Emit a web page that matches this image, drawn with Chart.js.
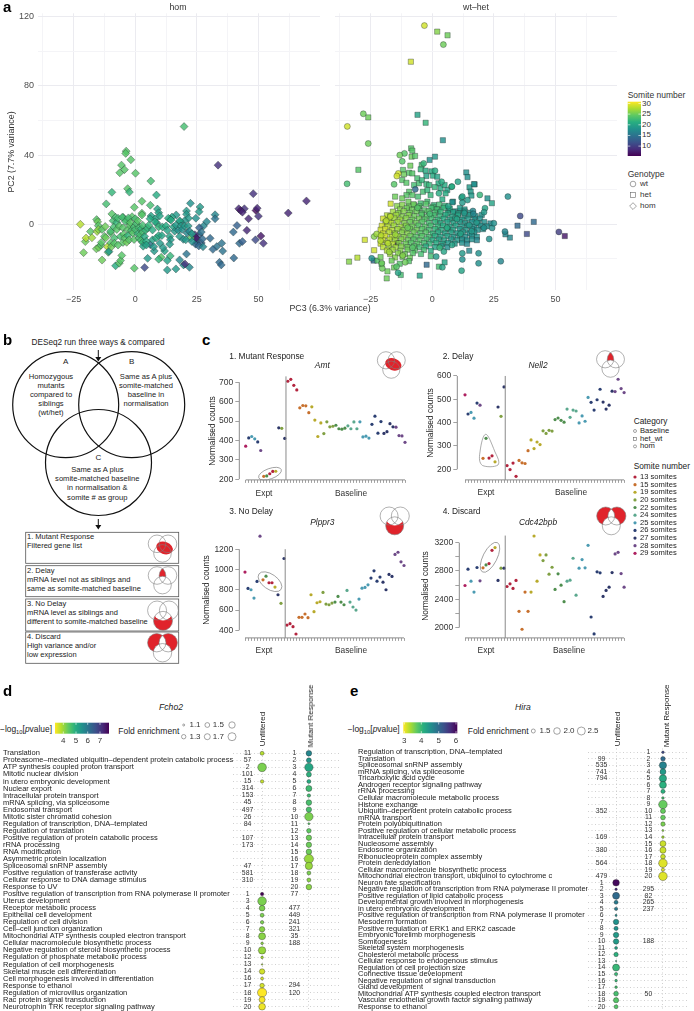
<!DOCTYPE html>
<html>
<head>
<meta charset="utf-8">
<title>Figure</title>
<script src="https://cdn.jsdelivr.net/npm/chart.js@4"></script>
<style>
html,body{margin:0;padding:0;background:#fff;overflow:hidden;}
#page{position:relative;width:694px;height:1011px;overflow:hidden;font-family:"Liberation Sans",Arial,sans-serif;color:#222;}
#page canvas{position:absolute;}
#page .t{position:absolute;white-space:nowrap;line-height:1;}
#page sub{font-size:70%;line-height:0;}
#overlay{position:absolute;left:0;top:0;z-index:5;pointer-events:none;}
</style>
</head>
<body>
<div id="page"></div>
<script>
// ---- panel a: PC3, PC2, somite number ----
var homPoints = [
[19.8,56.5,23],[-3.7,42.3,24],[-3.9,41,24],[-1.8,37.3,24],[-5.6,34.2,24],[-4.4,31.6,24],[-6.3,29.8,24],[0.1,29.5,24],[6.3,25,23],[-3.1,20.6,24],[-2.4,18.6,22],[-9.5,18.5,22],[8.6,16.9,21],[2.7,13.3,24],[-11.8,11.8,23],[6.1,11,23],[22.4,12.1,18],[26.3,10,19],[25.9,7.3,19],[20.8,7.7,19],[20.8,5.8,19],[9,8.8,20],[9.5,6.7,20],[-0.4,9.8,24],[2.7,6.4,24],[2.7,5.4,24],[32.4,5.5,17],[32.4,3.2,15],[16.6,5.4,19],[14.9,4.2,20],[14.2,2.9,20],[13.4,3.5,21],[6.4,4.8,20],[9.9,4.8,20],[8.1,3.2,20],[8.8,0.6,20],[-1.3,4.4,24],[-4.9,4,23],[-3.3,2.1,24],[24.6,3.5,18],[29,1.5,17],[27.7,-1,17],[21.6,3.5,19],[20,2,19],[18.2,1.5,19],
[33.6,34.2,9],[47.9,17.7,9],[69.5,13.5,8],[62.1,6.5,8],[42,9,8],[44.3,9,9],[42.8,8,7],[43.5,7,8],[49,8,6],[49.5,9.3,8],[46,3.2,8],[50,4.7,9],[45.3,-3.5,8],[41.3,-0.7,13],[39.8,-4.5,14],[51,-6.8,7],[48.8,-9,11],[52,-11,9],[42.3,-11,14],[43.5,-10,13],[40,-19.5,14],
[30.4,-8.1,14],[35.1,-11,15],[33.1,-12.9,15],[31.5,-14.5,14],[35.5,-15.5,15],[34.2,-22,14],[34.9,-23.5,14],[26,-2,13],[26,-6,13],[26.8,-4.5,15],[25,-8.5,13],[25,-10.5,13],[24.5,-11.5,14],[26.8,-10.8,13],[25.8,-12.5,14],[24.2,-6,9],[24.7,-8,7],[27.3,-8.5,14],[27.5,-13,17],[22.5,-8,24],[20.8,-17.2,15],[22,-24.9,17],[19.6,-23.5,18],[18,-20.6,17],[20.2,-23,9],[16.5,-25.8,19],[13,-26.4,19],[14.2,-18.3,22],[13,-21,20],[10.5,-19.1,24],[9.5,-20.2,22],[11.9,-15.4,20],[5,-19.7,19],[3.8,-25,11],[-0.4,-25.4,24],[7.7,-15.4,19],[6.1,-11.8,15],
[-22.3,0,28],[-21,-16.4,25],[-20.3,-10,25],[-20,-8,28],[-18.2,-4.2,24],[-17.6,-7.8,27],[-15.7,2.7,24],[-15.3,1.4,25],[-15,-0.8,24],[-15.5,-4.2,27],[-15,-3,26],[-15.8,-14.2,25],[-14.8,-13.4,25],[-14,-12,24],[-13.8,-10.5,24],[-13.5,-3,24],[-13.5,-20.7,25],[-12.5,-7,24],[-12.2,-1.3,25],[-12,-7.8,25],[-11.3,-13,28],[-11,-16.2,24],[-10.7,-15.7,19],[-10,-10.8,24],[-10,-5,24],[-10,-4,23],[-9.7,-13,25],[-9.5,6,24],[-9,2,23],[-8.7,-1.5,23],[-8.5,-8,23],[-8.5,-11,24],[-8,4,23],[-8,-24,21],[-7.5,1,22],[-7.5,-3,24],[-7,3.5,23],[-7,-12,24],[-6.5,-22.5,24],[-6,-21,24],[-5.5,-18,24],[-6.5,-1,24],[-6,-7,23],[-5.3,4,23],[-5,-2,24],[-5,-10.5,24],[-4.7,-5.7,24],[-4.3,-8,24],[-4,1.7,23],[-3.5,-10.4,25],[-3,-3,24],[-3,-6.5,22],[-2.8,3.7,23],[-2.5,-9,24],[-2.2,-0.7,24],[-2,1,24],[-1.5,-3.5,23],[-1,-5,24],[-0.5,-1.5,23],[-0.5,-8.8,24],[0,-3,23],[0,3.2,23],[0.5,0.5,23],[1,2,24],[1,-5.5,22],[1.5,-2,23],[1.5,-8,23],[2,-6,23],[2.3,-9.3,23],[2.5,-2.5,22],[3,-0.5,23],[3,-4.5,23],[3,-10.5,22],[3.2,-12.7,20],[3.8,-7,21],[4.2,-3.5,22],[4.5,-9.8,21],[4.5,-12,20],[5,-2.2,22],[5.5,-0.5,22],[6,3.2,21],[7,-3.3,21],[7,-9,20],[7.5,-13,19],[8,1.5,21],[8.5,-8,21],[9.5,-6.5,21],[9.5,-1.5,22],[10,-11,19],[10.8,-6.5,20],[11,-1.5,21],[11.3,-13.5,19],[12.5,-1,21],[13,-3.5,20],[14,-7,20],[14.3,-9,19],[14.5,2.5,21],[14,-11.5,19],[15.5,-1.5,20],[16,-4,19],[16.5,-0.5,19],[17.5,-3.5,18],[18,2,20],[18,-7,19],[18.5,-1,19],[19,-3,18],[20,-1,19],[19.5,-8.7,18],[20.5,-9,19],[21,-5,17],[21.5,-1,19],[22,-4,17],[23,-5.5,19],[23,-10,18]
];
var wtPoints = [
[-3.2,114.9,29],[4.5,103.9,25],[-28,63.9,25],[-34.5,56.6,29],[-26,46.7,25],[-34.6,23.4,23],[-11.3,41,24],[-13.2,40,25],[-3.5,35.2,22],[-12.2,36.4,24],[1.1,31,21],[-13.8,29.4,29],[-14.4,27.9,29],[3.8,24.6,21],[-15.5,23.1,24],[-6.9,20.2,14],[7.8,21.7,21],[10.4,24.6,20],[2.7,17.9,21],[11.9,15.4,20],[14.3,14,19],[12.2,12.5,19],[16.5,7.7,17],[30.7,16,18],[19.3,17,22],[12.2,16,20],[8,21.8,21],[21.4,9.3,20],[21,7,19],[16.7,6,17],[35.7,4.8,11],[51.4,-4.4,10],[29.5,-4.2,17],[24.3,-2.1,18],[25,0.6,18],[23.1,-8.5,18],[27.8,-21.4,17],[18.8,-22.6,18],[18.8,-16.8,18],[12.2,-20.3,18],[12.2,-16.8,19],[1.6,-18.7,19],[4.7,-15.8,20],[4.1,-24.9,20],[11.9,-26.8,20],[-13.9,-28,20],[-24.6,-19.7,18],[-23.6,-7.1,26],[-22.6,-5.6,27],[-20.8,-6.5,28],[-20.3,-25.5,25],[-20.5,-22.5,25],[-14.5,-24.5,24],[-11,-22,25],[-18.7,2,28],[-17,4.5,28],[-21,-9.5,28],[-17.5,-16,27],[-12,-18,26],[-8,-13.5,24],[3,-13.5,22],[8,-12,20],[11.5,-5.5,20],[15,-0.5,19],[18,1,19],[10,3,20],[13,6.5,19],[6,-2,21],[-1,6,23],[-6,9.5,24],[-10,-2,25],[-15,-6,27],[-18,-11,28],[16,-4,19],[21,-2,18],[6.5,10.5,20]
];
var hetPoints = [
[2,111.4,26],[6.2,109.3,25],[-8.7,94,29],[-26,61.8,25],[-6,63.3,20],[-2.7,58.7,22],[4.3,48.6,18],[-30,31.5,24],
[-8.6,43.9,24],[-8.1,42.6,24],[-8.4,39.1,25],[-7,39.5,24],[1.1,39.1,19],[-1.1,37.2,18],[-4.3,34.3,23],[-8.9,33.9,25],[-11.9,31.4,24],[-11.5,28.9,25],[-9.4,29.8,24],[-8.1,29.4,24],[-4.7,31.8,22],[-2.7,31,21],[-2.4,27.9,20],[-0.3,30.6,21],[0.3,28.1,21],[2,27.5,20],[2.5,23.7,21],[-12.2,25.6,24],[-10.5,24,24],[-6.1,26.6,23],[-7.4,22.7,23],[-5.4,23.7,23],[-4.2,25.5,22],[-2.4,23.3,22],[-1.3,22.7,22],[-9.4,18.8,24],[-10.5,16.9,24],[-8.1,16.9,24],[-5.8,16,23],[-3.8,18.8,23],[-2,19.8,22],[-0.7,16.9,22],[1,21.5,22],[3.4,20.8,21],[5,22.7,21],[6.1,19.8,20],[13.8,30,18],[14.3,27.3,18],[17.2,23.1,18],[15.1,21.4,19],[15.6,18.9,19],[8.4,13.1,18],[4.1,14.4,21],[5.4,17.9,21],[-15.1,16,25],[-16.9,11.9,29],[-12.2,15,25],[-9.7,13.1,25],[-7.4,11.1,24],[-4.7,12.1,23],[-2,13.1,23],[0.7,11.1,22],[2.4,8.3,22],[6.8,8.3,18],[9.2,7.5,18],[11.5,7.9,19],[22.4,15,18],[24.2,12.2,20],[16.9,23.2,18],[15.9,16.6,19],[8.1,12.7,18],
[-33.8,-21.6,26],[-30.4,-19.3,28],[-27.4,-9,29],[-23.6,-15,29],[-23.8,-21,14],[-22.3,-21,24],[-20.6,-23,24],[-18.2,-27.2,25],[-18.5,-31.3,25],[-12.8,-29.3,23],[-5.1,-29.7,20],[-2.3,-23.4,14],[2.7,-24.5,23],[5,-22,20],[15,-15.3,17],[31.5,-7.7,17],[29.7,-5.8,17],[34.6,-0.8,14],[38.4,-5.6,11],[41.2,1.4,14],[53.8,-6.8,7],[-14.2,-10.6,6],
[-14.3,10.6,26],[-12.2,11.3,26],[-9.5,10.2,25],[-7.6,11.6,25],[-5.2,10.4,24],[-2.6,11.8,24],[0.2,10.1,23],[2.8,11.4,23],[5.1,10.7,22],
[-13.1,8.6,26],[-10.4,9.3,25],[-8.2,8.4,25],[-5.5,9.2,24],[-3.1,8.1,24],[-0.4,9.4,23],[1.9,8.7,23],[4.6,9.5,22],[7.1,9.1,21],[11.2,9.4,19],[13.1,8.6,19],
[-16,7.3,27],[-13.8,6.5,26],[-11.6,7.6,26],[-9.1,6.6,25],[-6.4,7.4,25],[-4.2,6.3,24],[-1.5,7.5,24],[1.1,6.7,23],[3.4,7.2,22],[6.2,6.4,21],[8.5,7,20],[10.6,6.2,20],[13.2,7.4,19],[15.5,6.7,19],
[-18.4,5.2,28],[-17.1,4.6,28],[-14.6,5.4,27],[-12.1,4.5,26],[-9.6,5.3,26],[-7.2,4.7,25],[-4.4,5.5,24],[-2.1,4.4,24],[0.6,5.2,23],[3.1,4.6,22],[5.4,5.5,21],[8.1,4.4,20],[10.4,5.1,20],[13,4.5,19],[15.2,5.3,19],[17.6,4.7,18],[20.1,5.4,18],
[-20,3.3,29],[-17.5,2.6,28],[-15.4,3.4,27],[-13.1,2.7,27],[-10.6,3.5,26],[-8.1,2.6,25],[-5.4,3.3,25],[-3.1,2.8,24],[-0.4,3.5,23],[2.1,2.6,22],[4.6,3.2,21],[7.1,2.7,20],[9.4,3.4,20],[12.1,2.6,19],[14.6,3.2,19],[17.1,2.8,18],[19.4,3.3,18],
[-19,1.2,28],[-16.6,0.7,28],[-14.1,1.4,27],[-11.4,0.6,26],[-9.1,1.3,25],[-6.6,0.8,25],[-4.1,1.5,24],[-1.4,0.7,23],[1.1,1.2,22],[3.4,0.6,21],[6.1,1.4,20],[8.6,0.8,20],[11.1,1.3,19],[13.4,0.6,19],[16.1,1.2,18],[18.6,0.7,18],[21.1,1.3,18],[23.6,0.5,17],
[-20.5,-0.8,29],[-18.1,-1.3,28],[-15.6,-0.7,27],[-13,-1.4,27],[-10.6,-0.8,26],[-8.1,-1.3,25],[-5.6,-0.7,24],[-3.1,-1.4,24],[-0.6,-0.8,23],[2.1,-1.3,22],[4.4,-0.7,21],[7.1,-1.4,20],[9.6,-0.8,20],[12.1,-1.3,19],[14.4,-0.7,19],[17.1,-1.4,18],[19.6,-0.8,18],[22.1,-1.2,18],
[-21,-3.2,29],[-19.1,-2.7,29],[-16.4,-3.4,28],[-14.1,-2.8,27],[-11.6,-3.3,26],[-9.1,-2.6,25],[-6.4,-3.2,25],[-4.1,-2.7,24],[-1.4,-3.3,23],[1.1,-2.8,22],[3.6,-3.4,21],[6.1,-2.7,20],[8.4,-3.2,20],[11.1,-2.8,19],[13.6,-3.3,19],[16.1,-2.7,18],[18.4,-3.2,18],[20.6,-2.8,18],
[-20,-5.3,29],[-17.6,-4.7,28],[-15.1,-5.2,27],[-12.4,-4.8,26],[-10.1,-5.4,26],[-7.6,-4.7,25],[-4.9,-5.2,24],[-2.6,-4.8,24],[0.1,-5.4,22],[2.4,-4.7,21],[5.1,-5.3,20],[7.6,-4.8,20],[10.1,-5.2,19],[12.4,-4.7,19],[15.1,-5.3,18],[17.1,-4.8,18],
[-21,-7.2,29],[-19.1,-6.7,29],[-16.4,-7.3,28],[-14.1,-6.8,27],[-11.6,-7.4,26],[-8.9,-6.7,25],[-6.6,-7.2,24],[-4.1,-6.8,24],[-1.4,-7.3,23],[1.1,-6.7,21],[3.4,-7.2,20],[6.1,-6.8,20],[8.6,-7.3,19],[11.1,-6.7,19],[13.4,-7.2,18],[16.1,-6.8,18],[18.1,-7.2,18],
[-20,-9.2,29],[-17.4,-8.8,28],[-15.1,-9.3,27],[-12.6,-8.7,26],[-9.9,-9.2,25],[-7.6,-8.8,24],[-5.1,-9.3,24],[-2.4,-8.7,23],[0.1,-9.2,21],[2.6,-8.8,20],[4.9,-9.3,20],[7.6,-8.7,19],[10.1,-9.2,19],[12.1,-8.8,18],[14.1,-9.3,18],[16.1,-8.7,18],[18.1,-9.2,17],
[-21,-11.2,29],[-18.4,-10.7,28],[-16.1,-11.3,28],[-13.6,-10.9,26],[-10.9,-11.2,25],[-8.6,-10.7,24],[-6.1,-11.3,24],[-3.4,-10.8,23],[-1.1,-11.2,22],[1.6,-10.7,21],[4.1,-11.3,20],[6.4,-10.8,19],[9.1,-11.2,19],[12.1,-10.7,18],[14.1,-11.3,17],
[-20,-13.2,28],[-17.6,-12.7,27],[-14.9,-13.3,27],[-12.6,-12.8,26],[-10.1,-13.2,25],[-7.4,-12.7,24],[-5.1,-13.3,23],[-2.6,-12.8,21],[1.1,-13.2,20],[3.6,-12.7,19],[6.1,-13.3,18],
[-18.4,-15.2,28],[-16.1,-14.8,27],[-12.9,-15.3,26],[-10.1,-14.7,25],[-7.1,-15.2,24],[-3.4,-14.8,23],[-0.6,-15.2,21],
[-17.1,-17.2,27],[-13.9,-16.8,26],[-11.1,-17.3,25],[-7.9,-16.7,24],[-4.6,-17.2,23],[-0.6,-18.5,23],
[-15.1,-19.2,26],[-12.1,-18.8,25],[-9.1,-19.4,25],[-13.2,-22.8,24],[-9.5,-21.3,24],[-15.5,-25,25],[-16.5,-21,25],[-21,-19,25]
];
var aXTicks = [-37.5,-25,-12.5,0,12.5,25,37.5,50,62.5];
var aYTicks = [-20,0,20,40,60,80,100,120];

// ---- panel c: normalised counts, sample index order ----
var sampleSomites = [29,26,25,25,26,28,15,22,13,13,19,27,20,27,13,13,13,13,15,15,15,15,19,19,19,19,20,20,20,20,22,22,22,22,24,24,24,24,25,25,25,25,26,26,26,26,27,27,27,27,28,28,28,28];
var amtCounts = [370,413,420,408,392,348,215,217,228,240,241,465,462,410,705,715,684,660,568,580,578,543,573,505,420,490,435,496,470,473,478,460,458,463,475,460,495,460,496,418,422,412,483,525,437,497,436,445,486,470,468,425,423,390];
var nell2Counts = [519,437,444,419,484,475,247,333,248,258,232,467,427,553,216,199,227,170,238,228,225,280,326,289,317,306,365,354,367,364,413,420,410,402,458,423,454,450,399,429,406,508,487,454,498,543,488,458,475,535,533,586,546,529];
var plppr3Counts = [974,813,800,718,882,1328,898,934,869,869,826,751,666,1108,452,466,436,364,528,528,561,525,751,584,672,682,774,659,652,669,679,734,679,652,793,679,630,600,708,816,823,849,915,987,885,925,875,800,951,931,1148,1170,1075,1039];
var cdc42bpbCounts = [2595,2825,2656,2502,2849,2661,2844,2886,2905,3092,3130,2666,2839,2839,2581,2619,2553,2666,2230,1977,2502,2230,2502,3294,2656,3027,2947,3027,2755,2853,2539,2760,2600,2366,2656,2670,2980,2459,2839,2961,2844,3163,2150,1911,2788,2774,2441,2525,2572,2778,3041,3064,2764,2572];
var somiteLabels = [13,15,19,20,22,24,25,26,27,28,29];
var somiteColors = {13:'#b3243e',15:'#c7702d',19:'#b8aa2c',20:'#80a043',22:'#4f8e4e',24:'#5ba88e',25:'#4b9bb2',26:'#2b3f72',27:'#2e3768',28:'#6e4a88',29:'#ae2060'};

// ---- panel d: Fcho2 ----
var dRows = ['Translation','Proteasome\u2013mediated ubiquitin\u2013dependent protein catabolic process','ATP synthesis coupled proton transport','Mitotic nuclear division','in utero embryonic development','Nuclear export','Intracellular protein transport','mRNA splicing, via spliceosome','Endosomal transport','Mitotic sister chromatid cohesion','Regulation of transcription, DNA\u2013templated','Regulation of translation','Positive regulation of protein catabolic process','rRNA processing','RNA modification','Asymmetric protein localization','Spliceosomal snRNP assembly','Positive regulation of transferase activity','Cellular response to DNA damage stimulus','Response to UV','Positive regulation of transcription from RNA polymerase II promoter','Uterus development','Receptor metabolic process','Epithelial cell development','Regulation of cell division','Cell\u2013cell junction organization','Mitochondrial ATP synthesis coupled electron transport','Cellular macromolecule biosynthetic process','Negative regulation of steroid biosynthetic process','Regulation of phosphate metabolic process','Regulation of cell morphogenesis','Skeletal muscle cell differentiation','Cell morphogenesis involved in differentiation','Response to ethanol','Regulation of microvillus organization','Rac protein signal transduction','Neurotrophin TRK receptor signaling pathway'];
var dUnfRank = [11,57,2,101,15,314,153,45,497,26,84,null,107,173,null,null,47,581,310,null,1,3,4,5,6,7,8,9,10,12,13,14,16,17,18,19,20];
var dMutRank = [1,2,3,4,5,6,7,8,9,10,11,12,13,14,15,16,17,18,19,20,77,null,477,449,241,321,35,188,null,null,null,null,null,294,120,null,null];
var dUnfFold = [1.25,null,1.7,null,1.2,null,null,null,null,null,null,null,null,null,null,null,null,null,null,null,1.2,1.7,1.41,1.25,1.2,1.39,1.54,1.12,1.58,1.12,1.02,1.39,1.16,1.31,1.75,1.45,1.52];
var dUnfLogP = [3.8,null,4.2,null,3.7,null,null,null,null,null,null,null,null,null,null,null,null,null,null,null,7.7,4.2,4.2,4.2,4.2,4.1,4.1,4.1,4,3.9,3.9,3.6,3.6,3.6,3.3,3.35,3.4];
var dMutFold = [1.41,1.35,1.68,1.35,1.25,1.45,1.2,1.41,1.39,1.68,1.06,1.31,1.39,1.39,1.41,1.75,1.58,1.25,1.25,1.41];
var dMutLogP = [5.7,5.4,5.1,4.9,5,4.7,4.7,4.6,4.6,4.2,4.5,4.4,4.3,4.3,4.3,4,4,4.2,4.1,4.1];

// ---- panel e: Hira ----
var eRows = ['Regulation of transcription, DNA\u2013templated','Translation','Spliceosomal snRNP assembly','mRNA splicing, via spliceosome','Tricarboxylic acid cycle','Androgen receptor signaling pathway','rRNA processing','Cellular macromolecule metabolic process','Histone exchange','Ubiquitin\u2013dependent protein catabolic process','mRNA transport','Protein polyubiquitination','Positive regulation of cellular metabolic process','Intracellular protein transport','Nucleosome assembly','Endosome organization','Ribonucleoprotein complex assembly','Protein deneddylation','Cellular macromolecule biosynthetic process','Mitochondrial electron transport, ubiquinol to cytochrome c','Neuron fate specification','Negative regulation of transcription from RNA polymerase II promoter','Positive regulation of lipid catabolic process','Developmental growth involved in morphogenesis','in utero embryonic development','Positive regulation of transcription from RNA polymerase II promoter','Mesoderm formation','Positive regulation of ERK1 and ERK2 cascade','Embryonic forelimb morphogenesis','Somitogenesis','Skeletal system morphogenesis','Cholesterol metabolic process','Cellular response to endogenous stimulus','Regulation of cell projection size','Connective tissue development','Negative regulation of signal transduction','Gland development','Mitochondrial ATP synthesis coupled electron transport','Vascular endothelial growth factor signaling pathway','Response to ethanol'];
var eUnfRank = [null,99,535,741,794,null,null,null,null,352,null,null,null,169,null,380,null,564,null,479,1,2,3,4,5,6,7,8,9,10,11,12,13,14,15,16,17,18,19,20];
var eMutRank = [1,2,3,4,5,6,7,8,9,10,11,12,13,14,15,16,17,18,19,20,null,295,82,265,237,null,null,null,null,188,null,null,null,null,null,null,null,50,null,null];
var eUnfFold = [null,null,null,null,null,null,null,null,null,null,null,null,null,null,null,null,null,null,null,null,2,1.05,2.09,1.41,1.27,1,1.73,1.45,1.73,1.73,1.18,1.5,0.82,2.09,1.27,1.09,1.09,1.59,1.68,1.41];
var eUnfLogP = [null,null,null,null,null,null,null,null,null,null,null,null,null,null,null,null,null,null,null,null,6,5.7,5,4.8,4.8,4.6,4.5,4.5,4.4,4.4,4.3,4.1,4.1,4,4,4,3.9,3.9,3.8,3.8];
var eMutFold = [1.09,1.55,2.14,1.86,2.14,2.09,1.45,1.09,2.45,1.64,1.59,1.5,0.95,1.09,1.86,1.91,1.59,2.45,1.23,2.45];
var eMutLogP = [5.4,5,4.7,4.4,4.2,4.1,4.1,3.9,3.7,3.7,3.7,3.6,3.5,3.4,3.2,3.2,3.2,3.1,3.1,3.1];

// ---- helpers ----
var page = document.getElementById('page');
var FONT = '"Liberation Sans", Arial, sans-serif';
var viridis = ['#440154','#472d7b','#3b528b','#2c728e','#21918c','#28ae80','#5ec962','#addc30','#fde725'];

function mixViridis(t, alpha) { // t 0 = purple, 1 = yellow
	t = Math.max(0, Math.min(1, t)) * (viridis.length - 1);
	var i = Math.min(Math.floor(t), viridis.length - 2), f = t - i;
	var a = parseInt(viridis[i].slice(1), 16), b = parseInt(viridis[i + 1].slice(1), 16);
	var ch = function (sh) { return Math.round(((a >> sh) & 255) * (1 - f) + ((b >> sh) & 255) * f); };
	return 'rgba(' + ch(16) + ',' + ch(8) + ',' + ch(0) + ',' + (alpha === undefined ? 1 : alpha) + ')';
}
function somiteColor(s) { return mixViridis((s - 5.4) / 25.4, 0.82); }

function text(str, x, y, size, opts) {
	opts = opts || {};
	var d = document.createElement('div');
	d.className = 't';
	d.innerHTML = str;
	d.style.left = x + 'px';
	d.style.top = y + 'px';
	d.style.fontSize = size + 'px';
	if (opts.color) d.style.color = opts.color;
	if (opts.weight) d.style.fontWeight = opts.weight;
	if (opts.italic) d.style.fontStyle = 'italic';
	var tx = opts.align === 'center' ? '-50%' : (opts.align === 'right' ? '-100%' : '0');
	d.style.transform = 'translate(' + tx + ',-50%)';
	if (opts.rotate) { d.style.transform = 'translate(-50%,-50%) rotate(' + opts.rotate + 'deg)'; }
	page.appendChild(d);
}

// canvas rect in page px, plot = chart area in page px
function addChart(rect, plot, cfg) {
	var c = document.createElement('canvas');
	c.width = rect.w; c.height = rect.h;
	c.style.left = rect.x + 'px'; c.style.top = rect.y + 'px';
	c.style.width = rect.w + 'px'; c.style.height = rect.h + 'px';
	page.appendChild(c);
	cfg.options = cfg.options || {};
	cfg.options.responsive = false;
	cfg.options.animation = false;
	cfg.options.devicePixelRatio = 1;
	cfg.options.layout = {padding: {left: 0, top: plot.t - rect.y, right: rect.x + rect.w - plot.r, bottom: 0}};
	cfg.options.plugins = {legend: {display: false}, tooltip: {enabled: false}, title: {display: false}};
	cfg.options.scales.x.afterFit = function (s) { s.height = rect.y + rect.h - plot.b; };
	cfg.options.scales.y.afterFit = function (s) { s.width = plot.l - rect.x; };
	return new Chart(c.getContext('2d'), cfg);
}

function setTicks(values) {
	return function (s) { s.ticks = values.map(function (v) { return {value: v}; }); };
}

// ---- panel a ----
function pcaDataset(points, style, radius) {
	return {
		data: points.map(function (p) { return {x: p[0], y: p[1]}; }),
		pointStyle: style,
		pointRadius: radius,
		pointBackgroundColor: points.map(function (p) { return somiteColor(p[2]); }),
		pointBorderColor: 'rgba(30,40,40,0.7)',
		pointBorderWidth: 0.5,
		clip: false
	};
}
function pcaChart(rect, plot, datasets, showY) {
	addChart(rect, plot, {
		type: 'scatter',
		data: {datasets: datasets},
		options: {
			scales: {
				x: {
					min: -39.5, max: 75,
					afterBuildTicks: setTicks(aXTicks),
					border: {display: false},
					grid: {drawTicks: false, lineWidth: 1, color: function (c) { return c.tick && c.tick.value % 25 === 0 ? '#ebebf0' : '#f4f4f7'; }},
					ticks: {autoSkip: false, maxRotation: 0, padding: 4, color: '#4d4d4d', font: {size: 9, family: FONT},
						callback: function (v) { return v % 25 === 0 ? String(v).replace('-', '\u2212') : ''; }}
				},
				y: {
					min: -38, max: 122,
					afterBuildTicks: setTicks(aYTicks),
					border: {display: false},
					grid: {drawTicks: false, lineWidth: 1, color: function (c) { return c.tick && c.tick.value % 40 === 0 ? '#ebebf0' : '#f4f4f7'; }},
					ticks: {display: showY, autoSkip: false, padding: 4, color: '#4d4d4d', font: {size: 9, family: FONT},
						callback: function (v) { return v % 40 === 0 ? String(v) : ''; }}
				}
			}
		}
	});
}
pcaChart({x: 0, y: 0, w: 330, h: 310}, {l: 38, t: 13.3, r: 320, b: 290}, [pcaDataset(homPoints, 'rectRot', 4)], true);
pcaChart({x: 330, y: 0, w: 295, h: 310}, {l: 335, t: 13.3, r: 617, b: 290},
	[pcaDataset(wtPoints, 'circle', 3), pcaDataset(hetPoints, 'rect', 3.7)], false);

// ---- panel c ----
function rStyleAxes(sepTop) {
	return {
		id: 'rStyleAxes',
		afterDatasetsDraw: function (chart) {
			var xs = chart.scales.x, ys = chart.scales.y, ctx = chart.ctx;
			var xt = xs.ticks, yt = ys.ticks;
			ctx.save();
			ctx.lineWidth = 1;
			ctx.strokeStyle = '#8a8a8a';
			ctx.beginPath();
			ctx.moveTo(xs.getPixelForValue(xt[0].value), chart.chartArea.bottom);
			ctx.lineTo(xs.getPixelForValue(xt[xt.length - 1].value), chart.chartArea.bottom);
			ctx.moveTo(chart.chartArea.left, ys.getPixelForValue(yt[0].value));
			ctx.lineTo(chart.chartArea.left, ys.getPixelForValue(yt[yt.length - 1].value));
			ctx.moveTo(xs.getPixelForValue(13.4), chart.chartArea.bottom);
			ctx.lineTo(xs.getPixelForValue(13.4), ys.getPixelForValue(sepTop));
			ctx.stroke();
			ctx.restore();
		}
	};
}
var sampleIdx = sampleSomites.map(function (s, i) { return i; });
function countsChart(rect, plot, counts, xr, yr, yTicks, sepTop, labelled) {
	addChart(rect, plot, {
		type: 'scatter',
		data: {datasets: [{
			data: counts.map(function (v, i) { return {x: i, y: v}; }),
			pointRadius: 1.6,
			pointBorderWidth: 0,
			pointBackgroundColor: sampleSomites.map(function (s) { return somiteColors[s]; }),
			clip: false
		}]},
		options: {
			scales: {
				x: {
					min: xr[0], max: xr[1],
					afterBuildTicks: setTicks(sampleIdx),
					border: {display: false},
					grid: {drawOnChartArea: false, drawTicks: true, tickLength: 3, color: '#8a8a8a', lineWidth: 0.8},
					ticks: {display: false, autoSkip: false}
				},
				y: {
					min: yr[0], max: yr[1],
					afterBuildTicks: setTicks(yTicks),
					border: {display: false},
					grid: {drawOnChartArea: false, drawTicks: true, tickLength: 4, color: '#8a8a8a', lineWidth: 0.8},
					ticks: {autoSkip: false, padding: 2, color: '#333', font: {size: 8.5, family: FONT},
						callback: function (v) { return labelled.indexOf(v) >= 0 ? String(v) : ''; }}
				}
			}
		},
		plugins: [rStyleAxes(sepTop)]
	});
}
var amtTicks = [200,300,400,500,600,700], nell2Ticks = [200,300,400,500,600], plppr3Ticks = [400,600,800,1000,1200];
var cdcTicks = [2000,2200,2400,2600,2800,3000,3200], cdcLabels = [2000,2400,2800,3200];
countsChart({x: 214, y: 345, w: 200, h: 142}, {l: 239.3, t: 372, r: 410, b: 481}, amtCounts, [-2.13, 54.66], [196.4, 752.6], amtTicks, 730, amtTicks);
countsChart({x: 432, y: 345, w: 200, h: 142}, {l: 457.3, t: 372, r: 628, b: 481}, nell2Counts, [-2.57, 54.3], [154.7, 617], nell2Ticks, 600, nell2Ticks);
countsChart({x: 214, y: 500, w: 200, h: 145}, {l: 239.3, t: 528, r: 410, b: 638.3}, plppr3Counts, [-1.9, 55], [325.3, 1409], plppr3Ticks, 1200, plppr3Ticks);
countsChart({x: 432, y: 500, w: 200, h: 145}, {l: 459.3, t: 528, r: 628, b: 638.3}, cdc42bpbCounts, [-1.9, 54.3], [1855, 3407], cdcTicks, 3300, cdcLabels);

// ---- panels d, e ----
function rankLabels(unf, mut, offset) {
	return {
		id: 'rankLabels',
		afterDatasetsDraw: function (chart) {
			var ctx = chart.ctx, xs = chart.scales.x, ys = chart.scales.y;
			ctx.save();
			ctx.font = '6.9px ' + FONT;
			ctx.fillStyle = '#333';
			ctx.textAlign = 'center';
			ctx.textBaseline = 'middle';
			[unf, mut].forEach(function (ranks, col) {
				ranks.forEach(function (r, i) {
					if (r !== null) ctx.fillText(r, xs.getPixelForValue(col) - offset, ys.getPixelForValue(i + 1));
				});
			});
			ctx.restore();
		}
	};
}
function enrichBubbles(rows, col, folds, logps, radius, colour) {
	var out = [], fill = [];
	rows.forEach(function (r, i) {
		if (folds[i] === null || folds[i] === undefined) return;
		out.push({x: col, y: i + 1, r: radius(folds[i])});
		fill.push(colour(logps[i]));
	});
	return {data: out, backgroundColor: fill, borderColor: 'rgba(40,40,40,0.75)', borderWidth: 0.5, clip: false};
}
function enrichChart(rect, plot, rows, xr, yr, datasets, unf, mut) {
	var idx = rows.map(function (r, i) { return i + 1; });
	addChart(rect, plot, {
		type: 'bubble',
		data: {datasets: datasets},
		options: {
			scales: {
				x: {
					min: xr[0], max: xr[1],
					afterBuildTicks: setTicks([0, 1]),
					border: {display: false, dash: [1, 2.5]},
					grid: {color: '#c4c4c4', lineWidth: 0.8, drawTicks: false},
					ticks: {display: false}
				},
				y: {
					reverse: true,
					min: yr[0], max: yr[1],
					afterBuildTicks: setTicks(idx),
					border: {display: false, dash: [1, 2.5]},
					grid: {color: '#c4c4c4', lineWidth: 0.8, drawTicks: false},
					ticks: {autoSkip: false, crossAlign: 'far', padding: 0, color: '#222', font: {size: 7.5, family: FONT},
						callback: function (v) { return rows[v - 1]; }}
				}
			}
		},
		plugins: [rankLabels(unf, mut, 14.5)]
	});
}
function dRadius(f) { return 5.2 * f - 4.52; }
function dColour(p) { return mixViridis((7.7 - p) / 4.4); }
function eRadius(f) { return 2.2 * (f - 0.5); }
function eColour(p) { return mixViridis((6.08 - p) / 3.13); }

enrichChart({x: 2.7, y: 740, w: 342, h: 285}, {l: 233, t: 749, r: 343, b: 1010}, dRows, [-0.615, 1.663], [0.39, 37.47],
	[enrichBubbles(dRows, 0, dUnfFold, dUnfLogP, dRadius, dColour), enrichBubbles(dRows, 1, dMutFold, dMutLogP, dRadius, dColour)], dUnfRank, dMutRank);
enrichChart({x: 358.3, y: 740, w: 336, h: 285}, {l: 588, t: 748.5, r: 694, b: 1010}, eRows, [-0.605, 1.56], [0.42, 40.5],
	[enrichBubbles(eRows, 0, eUnfFold, eUnfLogP, eRadius, eColour), enrichBubbles(eRows, 1, eMutFold, eMutLogP, eRadius, eColour)], eUnfRank, eMutRank);

// ---- text ----
[['a', 3, 6], ['b', 3, 339], ['c', 202, 339], ['d', 3, 690], ['e', 350, 690]].forEach(function (p) {
	text(p[0], p[1], p[2], 15, {weight: 'bold', color: '#000'});
});
text('hom', 178, 7, 8.8, {align: 'center', color: '#333'});
text('wt\u2013het', 476, 7, 8.8, {align: 'center', color: '#333'});
text('PC2 (7.7% variance)', 11, 152, 8.8, {rotate: -90, color: '#333'});
text('PC3 (6.3% variance)', 330, 308, 8.8, {align: 'center', color: '#333'});
text('Somite number', 627.7, 95, 8.5, {color: '#333'});
[30, 25, 20, 15, 10].forEach(function (v, i) { text(String(v), 642, 103.5 + i * 10.65, 8, {color: '#333'}); });
text('Genotype', 627.7, 174, 8.5, {color: '#333'});
['wt', 'het', 'hom'].forEach(function (v, i) { text(v, 640, 184 + i * 11, 8, {color: '#333'}); });

// b
text('DESeq2 run three ways &amp; compared', 98, 342.5, 8.2, {align: 'center'});
text('A', 65.7, 361.7, 8, {align: 'center'});
text('B', 131.7, 361.7, 8, {align: 'center'});
text('C', 98.5, 457.7, 8, {align: 'center'});
['Homozygous', 'mutants', 'compared to', 'siblings', '(wt/het)'].forEach(function (s, i) { text(s, 51, 376.7 + i * 8.95, 7.6, {align: 'center'}); });
['Same as A plus', 'somite-matched', 'baseline in', 'normalisation'].forEach(function (s, i) { text(s, 146, 376.7 + i * 8.95, 7.6, {align: 'center'}); });
['Same as A plus', 'somite-matched baseline', 'in normalisation &amp;', 'somite # as group'].forEach(function (s, i) { text(s, 97.3, 470 + i * 9.2, 7.6, {align: 'center'}); });
[['1. Mutant Response', 537], ['Filtered gene list', 546], ['2. Delay', 571], ['mRNA level not as siblings and', 580], ['same as somite-matched baseline', 589], ['3. No Delay', 604], ['mRNA level as siblings and', 613], ['different to somite-matched baseline', 622], ['4. Discard', 637], ['High variance and/or', 646], ['low expression', 655]].forEach(function (p) {
	text(p[0], 27, p[1], 7.5);
});

// c
text('1. Mutant Response', 229.3, 356, 8.4);
text('2. Delay', 442.7, 356, 8.4);
text('3. No Delay', 229.3, 511, 8.4);
text('4. Discard', 442.7, 511, 8.4);
text('Amt', 322.3, 365.3, 8.4, {align: 'center', italic: true});
text('Nell2', 538, 365.3, 8.4, {align: 'center', italic: true});
text('Plppr3', 322.3, 521.7, 8.4, {align: 'center', italic: true});
text('Cdc42bpb', 538, 521.7, 8.4, {align: 'center', italic: true});
[[212, 431], [430, 423], [206, 590], [425, 586]].forEach(function (p) { text('Normalised counts', p[0], p[1], 8.4, {rotate: -90}); });
[[264, 492.7, 'Expt'], [351, 492.7, 'Baseline'], [486, 491.5, 'Expt'], [571, 491.5, 'Baseline'], [264, 650, 'Expt'], [351, 650, 'Baseline'], [486, 649.5, 'Expt'], [569, 649.5, 'Baseline']].forEach(function (p) {
	text(p[2], p[0], p[1], 8.4, {align: 'center', color: '#333'});
});
text('Category', 633.7, 421, 8.3);
['Baseline', 'het_wt', 'hom'].forEach(function (s, i) { text(s, 640, 431 + i * 7.7, 7.6); });
text('Somite number', 633.7, 466, 8.3);
somiteLabels.forEach(function (s, i) { text(s + ' somites', 640, 477 + i * 7.63, 7.6); });

// d, e headers
text('Fcho2', 171, 707, 8.6, {align: 'center', italic: true});
text('Hira', 523, 707, 8.6, {align: 'center', italic: true});
text('\u2212log<sub>10</sub>[<i>p</i>value]', 0, 728.5, 8.4);
text('\u2212log<sub>10</sub>[<i>p</i>value]', 347.7, 728.5, 8.4);
text('Fold enrichment', 118.3, 731, 8.5);
text('Fold enrichment', 467.7, 731, 8.5);
[[4, 63.3], [5, 76], [6, 87.7], [7, 100]].forEach(function (p) { text(String(p[0]), p[1], 740.5, 8, {align: 'center', color: '#333'}); });
[[3, 404.3], [4, 421.3], [5, 438.7], [6, 456]].forEach(function (p) { text(String(p[0]), p[1], 740.5, 8, {align: 'center', color: '#333'}); });
[['1.1', 195, 725], ['1.5', 218.3, 725], ['1.3', 195, 736.7], ['1.7', 218.3, 736.7], ['1.5', 545, 731], ['2.0', 569, 731], ['2.5', 593, 731]].forEach(function (p) {
	text(p[0], p[1], p[2], 8, {align: 'center', color: '#333'});
});
[[263, 729, 'Unfiltered'], [311, 716, 'Mutant Response'], [617.7, 729, 'Unfiltered'], [666.7, 716, 'Mutant Response']].forEach(function (p) {
	text(p[2], p[0], p[1], 8, {rotate: -90, color: '#222'});
});

// ---- svg overlay: venn diagrams, legends, outlines ----
var svgId = 0;
function vennSvg(cx, top, r, kind) {
	var id = 'v' + (svgId++), ax = cx - 0.623 * r, bx = cx + 0.623 * r, ay = top + r, cy = ay + 1.09 * r;
	var A = 'cx="' + ax + '" cy="' + ay + '" r="' + r + '"', B = 'cx="' + bx + '" cy="' + ay + '" r="' + r + '"', C = 'cx="' + cx + '" cy="' + cy + '" r="' + r + '"';
	var red = '#e0232b', defs = '', fill = '';
	defs += '<clipPath id="' + id + 'b"><circle ' + B + '/></clipPath>';
	var whiteBg = '<rect x="' + (cx - 4 * r) + '" y="' + (top - 2 * r) + '" width="' + (8 * r) + '" height="' + (8 * r) + '" fill="#fff"/>';
	var lensOut = '<circle ' + A + ' fill="#000" clip-path="url(#' + id + 'b)"/>';
	var cOut = '<circle ' + C + ' fill="#000"/>';
	var notch = '<circle cx="' + cx + '" cy="' + ay + '" r="' + (1.05 * r) + '" fill="#000"/>';
	if (kind === 1) {
		var ex = cx + 0.23 * r, ey = ay + 0.47 * r;
		fill = '<ellipse cx="' + ex + '" cy="' + ey + '" rx="' + (0.97 * r) + '" ry="' + (0.7 * r) + '" transform="rotate(20 ' + ex + ' ' + ey + ')" fill="' + red + '"/>';
	} else if (kind === 2) {
		defs += '<mask id="' + id + 'm" maskUnits="userSpaceOnUse" x="0" y="0" width="694" height="1011">' + whiteBg + cOut + '</mask>';
		fill = '<g mask="url(#' + id + 'm)"><circle ' + A + ' fill="' + red + '" clip-path="url(#' + id + 'b)"/></g>';
	} else if (kind === 3) {
		defs += '<mask id="' + id + 'm" maskUnits="userSpaceOnUse" x="0" y="0" width="694" height="1011">' + whiteBg + notch + '</mask>';
		fill = '<g mask="url(#' + id + 'm)"><circle ' + C + ' fill="' + red + '"/></g>';
	} else {
		defs += '<mask id="' + id + 'm" maskUnits="userSpaceOnUse" x="0" y="0" width="694" height="1011">' + whiteBg + cOut + lensOut + '</mask>';
		fill = '<g mask="url(#' + id + 'm)"><circle ' + A + ' fill="' + red + '"/><circle ' + B + ' fill="' + red + '"/></g>';
	}
	var line = '<g fill="none" stroke="#7d7d7d" stroke-width="0.6"><circle ' + A + '/><circle ' + B + '/><circle ' + C + '/></g>';
	return '<defs>' + defs + '</defs>' + fill + line;
}
function gradient(id, horizontal) {
	var stops = viridis.slice().reverse().map(function (c, i) {
		return '<stop offset="' + (i / (viridis.length - 1)) + '" stop-color="' + c + '"/>';
	}).join('');
	return '<defs><linearGradient id="' + id + '" x1="0" y1="0" x2="' + (horizontal ? 1 : 0) + '" y2="' + (horizontal ? 0 : 1) + '">' + stops + '</linearGradient></defs>';
}
function circ(x, y, r, extra) { return '<circle cx="' + x + '" cy="' + y + '" r="' + r + '" ' + (extra || 'fill="none" stroke="#666" stroke-width="0.6"') + '/>'; }

var s = '<svg id="overlay" width="694" height="1011" xmlns="http://www.w3.org/2000/svg">';
// a legends
s += gradient('gradA', false) + '<rect x="627.7" y="101.7" width="13.3" height="54.3" fill="url(#gradA)"/>';
[103.5, 114.1, 124.8, 135.5, 146.1].forEach(function (y) { s += '<path d="M627.7 ' + y + 'h2.6M638.4 ' + y + 'h2.6" stroke="#fff" stroke-width="0.6"/>'; });
s += circ(633, 184, 2.8);
s += '<rect x="630.5" y="192.5" width="5" height="5" fill="none" stroke="#666" stroke-width="0.6"/>';
s += '<path d="M633 202.7l3.4 3.4l-3.4 3.4l-3.4 -3.4z" fill="none" stroke="#666" stroke-width="0.6"/>';
// b venn
s += '<g fill="none" stroke="#111" stroke-width="1.2">' + circ(65.7, 404.7, 53, ' ') + circ(131.7, 404.7, 53, ' ') + circ(98.5, 462.5, 53, ' ') + '</g>';
s += '<path d="M98.3 350V358M98.3 519V526" stroke="#111" stroke-width="1"/><path d="M95.3 357h6l-3 4.5zM95.3 525h6l-3 4.5z" fill="#111"/>';
[[532.3, 31], [565.7, 31], [599, 32], [632, 31.3]].forEach(function (b) {
	s += '<rect x="25.7" y="' + b[0] + '" width="153" height="' + b[1] + '" fill="none" stroke="#555" stroke-width="0.8"/>';
});
s += vennSvg(162.5, 535, 8.8, 1) + vennSvg(162.5, 566.7, 8.8, 2) + vennSvg(163, 601, 9.5, 3) + vennSvg(162.5, 633.5, 9.2, 4);
// c venns
s += vennSvg(391.3, 351.7, 8.6, 1) + vennSvg(610.5, 350.7, 8.6, 2) + vennSvg(394.7, 507, 9, 3) + vennSvg(611.3, 507, 9, 4);
// c outlines
var outline = 'fill="none" stroke="#888" stroke-width="0.7"';
s += '<ellipse cx="270" cy="473.7" rx="12" ry="5.2" transform="rotate(-20 270 473.7)" ' + outline + '/>';
s += '<path d="M485.7 434.3C488 434 491 442 495 452C498 458 500 462 498 465C494 467.5 486 467 482.5 465.5C479 463 479 458 480 452C481 444 483 434.5 485.7 434.3Z" ' + outline + '/>';
s += '<ellipse cx="270" cy="581.7" rx="13.5" ry="7.5" transform="rotate(35 270 581.7)" ' + outline + '/>';
s += '<ellipse cx="490" cy="557.3" rx="7" ry="16.5" transform="rotate(27 490 557.3)" ' + outline + '/>';
// c legends
s += circ(635, 431, 1.5) + '<rect x="633.5" y="437.3" width="3" height="3" fill="none" stroke="#666" stroke-width="0.6"/>' + circ(635, 446.4, 1.5);
somiteLabels.forEach(function (v, i) { s += circ(635, 477 + i * 7.63, 1.6, 'fill="' + somiteColors[v] + '"'); });
// d, e colour bars and size legends
s += gradient('gradD', true) + '<rect x="55" y="722.7" width="54" height="11" fill="url(#gradD)"/>';
[63.3, 76, 87.7, 100].forEach(function (x) { s += '<path d="M' + x + ' 722.7v2.2M' + x + ' 731.5v2.2" stroke="#fff" stroke-width="0.6"/>'; });
s += gradient('gradE', true) + '<rect x="403.3" y="722.3" width="54" height="11" fill="url(#gradE)"/>';
[404.3, 421.3, 438.7, 456].forEach(function (x) { s += '<path d="M' + x + ' 722.3v2.2M' + x + ' 731.1v2.2" stroke="#fff" stroke-width="0.6"/>'; });
[[183.7, 725, 1], [207.3, 725, 2.4], [232, 725, 3.2], [183.7, 736.7, 2.2], [207.3, 736.7, 3], [232, 736.7, 4], [533.3, 731, 2], [557, 731, 3.3], [581.3, 731, 4]].forEach(function (c) { s += circ(c[0], c[1], c[2]); });
s += '</svg>';
page.insertAdjacentHTML('beforeend', s);
</script>
</body>
</html>
